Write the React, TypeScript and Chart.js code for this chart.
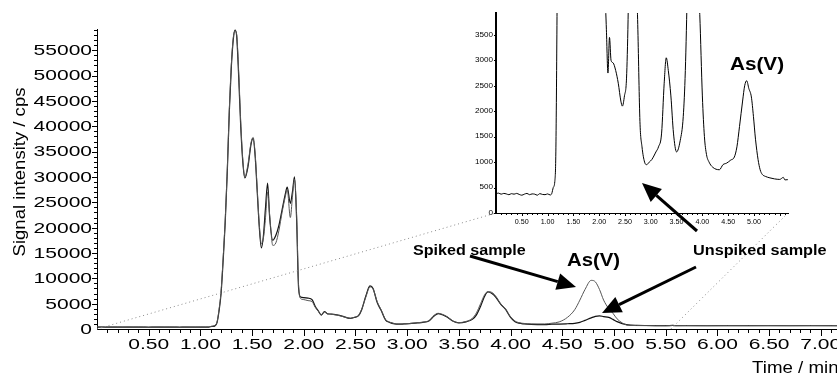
import React, { useEffect, useRef } from 'react';
import { Chart, registerables } from 'chart.js';

Chart.register(...registerables);

// ---- data ----
const TIME = [
  0.0, 0.05, 0.1, 0.15, 0.2, 0.25, 0.3, 0.35, 0.4, 0.45, 0.5, 0.55, 0.6, 0.65, 0.7, 0.75, 0.8, 0.85, 0.9, 0.95,
  1.0, 1.05, 1.08, 1.11, 1.14, 1.16, 1.18, 1.2, 1.22, 1.24, 1.26, 1.28, 1.3, 1.32, 1.335, 1.35, 1.37, 1.39, 1.41, 1.43,
  1.46, 1.49, 1.51, 1.53, 1.55, 1.57, 1.59, 1.61, 1.63, 1.65, 1.67, 1.7, 1.73, 1.76, 1.79, 1.82, 1.84, 1.87, 1.89, 1.91,
  1.93, 1.95, 1.97, 2.0, 2.04, 2.08, 2.11, 2.14, 2.17, 2.2, 2.23, 2.27, 2.32, 2.37, 2.42, 2.45, 2.49, 2.53, 2.56, 2.6,
  2.64, 2.67, 2.71, 2.75, 2.79, 2.83, 2.88, 2.92, 2.97, 3.02, 3.1, 3.15, 3.21, 3.26, 3.3, 3.34, 3.39, 3.44, 3.5, 3.57,
  3.63, 3.67, 3.71, 3.75, 3.78, 3.82, 3.86, 3.9, 3.95, 4.0, 4.04, 4.08, 4.13, 4.2, 4.33, 4.4, 4.47, 4.55, 4.62, 4.67,
  4.72, 4.78, 4.82, 4.86, 4.9, 4.95, 4.99, 5.03, 5.08, 5.12, 5.16, 5.22, 5.31, 5.4, 5.5, 5.57, 5.6, 5.7, 5.9, 6.1,
  6.3, 6.5, 6.7, 6.9, 7.1, 7.16,
];

const UNSPIKED = [
  380, 390, 370, 385, 375, 360, 380, 370, 385, 365, 350, 370, 385, 360, 375, 370, 350, 380, 365, 360,
  375, 355, 380, 500, 620, 1200, 3500, 7000, 13500, 21000, 31000, 43000, 52000, 57500, 59000, 58000, 50000, 40000, 33000, 29800,
  32000, 36500, 37600, 34000, 27000, 20000, 16000, 18500, 24000, 28800, 22000, 17500, 18500, 20500, 23500, 26500, 28000, 24800, 27000, 30000,
  22000, 8000, 6300, 6200, 6100, 5800, 4500, 3600, 2750, 3450, 3000, 2950, 2800, 2550, 2200, 2100, 2300, 2650, 3800, 6500,
  8500, 8000, 5200, 3600, 1800, 1300, 1000, 950, 1000, 1050, 1200, 1300, 1570, 2550, 3050, 2800, 2300, 1570, 1200, 1420,
  1900, 2800, 4500, 6500, 7300, 7000, 6200, 5000, 3900, 2300, 1500, 1150, 1000, 900, 850, 950, 980, 1040, 1100, 1300,
  1700, 2200, 2500, 2600, 2450, 2280, 1900, 1450, 1050, 850, 760, 720, 690, 670, 660, 700, 650, 660, 640, 660,
  650, 670, 640, 660, 650, 640,
];

const SPIKED = [
  420, 410, 400, 420, 410, 400, 420, 405, 415, 400, 390, 410, 420, 400, 410, 400, 395, 415, 400, 395,
  410, 400, 420, 520, 700, 1300, 3800, 7500, 14000, 21500, 31500, 43500, 52500, 57800, 58800, 58200, 51000, 41000, 33500, 30000,
  32500, 36800, 37800, 34500, 27500, 20500, 16800, 18000, 22000, 27000, 22500, 16500, 17000, 19500, 23000, 26000, 27500, 22000, 26000, 29500,
  23000, 8500, 6000, 5800, 5600, 5400, 4300, 3500, 2800, 3300, 3000, 2900, 2750, 2500, 2200, 2100, 2300, 2700, 3900, 6300,
  8300, 7900, 5400, 3700, 1900, 1350, 1050, 980, 1020, 1080, 1250, 1350, 1650, 2700, 3100, 2900, 2400, 1600, 1250, 1500,
  2100, 3200, 5000, 6800, 7400, 7200, 6400, 5100, 4000, 2400, 1600, 1250, 1100, 1000, 1000, 1150, 1400, 2300, 3800, 5700,
  7800, 9600, 9300, 7800, 5700, 4000, 3100, 2000, 1200, 800, 700, 680, 660, 650, 640, 700, 660, 680, 650, 670,
  660, 680, 660, 680, 660, 650,
];

const MAIN_X_LABELS = ['0.50', '1.00', '1.50', '2.00', '2.50', '3.00', '3.50', '4.00', '4.50', '5.00', '5.50', '6.00', '6.50', '7.00'];
const MAIN_Y_LABELS = ['0', '5000', '10000', '15000', '20000', '25000', '30000', '35000', '40000', '45000', '50000', '55000'];
const INSET_X_LABELS = ['0.50', '1.00', '1.50', '2.00', '2.50', '3.00', '3.50', '4.00', '4.50', '5.00'];
const INSET_Y_LABELS = ['0', '500', '1000', '1500', '2000', '2500', '3000', '3500'];

const X_TITLE = 'Time / min';
const Y_TITLE = 'Signal intensity / cps';
const LABEL_SPIKED = 'Spiked sample';
const LABEL_UNSPIKED = 'Unspiked sample';
const LABEL_ASV = 'As(V)';

// ---- layout ----
const W = 837;
const H = 375;
const INSET_LEFT = 440;
const INSET_W = 360;
const INSET_H = 235;
const INSET_PAD = { left: 56, right: 12, top: 13, bottom: 22 };

const FONT = '"Liberation Sans", Arial, Helvetica, sans-serif';

function stretchText(
  ctx: CanvasRenderingContext2D,
  text: string,
  x: number,
  y: number,
  sx: number,
  font: string,
  align: CanvasTextAlign,
  baseline: CanvasTextBaseline,
  rotate = 0
) {
  ctx.save();
  ctx.translate(x, y);
  if (rotate) ctx.rotate(rotate);
  ctx.scale(sx, 1);
  ctx.font = font;
  ctx.textAlign = align;
  ctx.textBaseline = baseline;
  ctx.fillText(text, 0, 0);
  ctx.restore();
}

function seg(ctx: CanvasRenderingContext2D, x1: number, y1: number, x2: number, y2: number) {
  ctx.beginPath();
  ctx.moveTo(x1, y1);
  ctx.lineTo(x2, y2);
  ctx.stroke();
}

function arrow(ctx: CanvasRenderingContext2D, x1: number, y1: number, x2: number, y2: number) {
  const ang = Math.atan2(y2 - y1, x2 - x1);
  const headLen = 19;
  const headHalf = 8.5;
  const bx = x2 - headLen * Math.cos(ang);
  const by = y2 - headLen * Math.sin(ang);
  ctx.save();
  ctx.strokeStyle = '#000';
  ctx.fillStyle = '#000';
  ctx.lineWidth = 3;
  seg(ctx, x1, y1, bx, by);
  ctx.beginPath();
  ctx.moveTo(x2, y2);
  ctx.lineTo(bx + headHalf * Math.sin(ang), by - headHalf * Math.cos(ang));
  ctx.lineTo(bx - headHalf * Math.sin(ang), by + headHalf * Math.cos(ang));
  ctx.closePath();
  ctx.fill();
  ctx.restore();
}

const mainDecor = {
  id: 'mainDecor',
  afterDraw(chart: any) {
    const { ctx, chartArea: a } = chart;
    const x = chart.scales.x;
    const y = chart.scales.y;
    ctx.save();
    ctx.strokeStyle = '#000';
    ctx.lineWidth = 1;
    // x ticks: minor every 0.1, major every 0.5
    for (let i = 1; i <= 71; i++) {
      const px = Math.round(x.getPixelForValue(i / 10)) + 0.5;
      const major = i % 5 === 0;
      seg(ctx, px, a.bottom, px, a.bottom + (major ? 7 : 4));
    }
    // y ticks: minor every 1000, major every 5000
    for (let v = 1000; v <= 59000; v += 1000) {
      const py = Math.round(y.getPixelForValue(v)) + 0.5;
      const major = v % 5000 === 0;
      seg(ctx, a.left - (major ? 5 : 3), py, a.left, py);
    }
    ctx.fillStyle = '#000';
    const tickFont = `14px ${FONT}`;
    MAIN_X_LABELS.forEach((l) => {
      stretchText(ctx, l, x.getPixelForValue(parseFloat(l)), a.bottom + 16, 1.5, tickFont, 'center', 'middle');
    });
    MAIN_Y_LABELS.forEach((l) => {
      stretchText(ctx, l, a.left - 5, y.getPixelForValue(parseFloat(l)) + 1, 1.5, tickFont, 'right', 'middle');
    });
    // axis titles
    stretchText(ctx, X_TITLE, 752, 373, 1.1, `17px ${FONT}`, 'left', 'alphabetic');
    stretchText(ctx, Y_TITLE, 25, 172, 1.09, `17px ${FONT}`, 'center', 'alphabetic', -Math.PI / 2);

    // dotted connector lines to the inset
    ctx.save();
    ctx.strokeStyle = '#8a8a8a';
    ctx.lineWidth = 1;
    ctx.setLineDash([1, 3]);
    const insetBL = { x: INSET_LEFT + INSET_PAD.left, y: INSET_H - INSET_PAD.bottom };
    const insetBR = { x: INSET_LEFT + INSET_W - INSET_PAD.right, y: INSET_H - INSET_PAD.bottom };
    seg(ctx, x.getPixelForValue(0), y.getPixelForValue(0), insetBL.x, insetBL.y);
    seg(ctx, x.getPixelForValue(5.55), y.getPixelForValue(0), insetBR.x, insetBR.y);
    ctx.restore();

    // annotations
    const bold14 = `bold 14px ${FONT}`;
    stretchText(ctx, LABEL_SPIKED, 413, 255, 1.15, bold14, 'left', 'alphabetic');
    stretchText(ctx, LABEL_UNSPIKED, 693, 255, 1.16, bold14, 'left', 'alphabetic');
    stretchText(ctx, LABEL_ASV, 567, 266, 1.13, `bold 18px ${FONT}`, 'left', 'alphabetic');

    arrow(ctx, 470, 256, 576, 287);
    arrow(ctx, 696, 267, 602, 313);
    arrow(ctx, 697, 231, 642, 183);
    ctx.restore();
  },
};

const insetDecor = {
  id: 'insetDecor',
  afterDraw(chart: any) {
    const { ctx, chartArea: a } = chart;
    const x = chart.scales.x;
    const y = chart.scales.y;
    ctx.save();
    ctx.strokeStyle = '#000';
    ctx.lineWidth = 1;
    for (let i = 1; i <= 56; i++) {
      const px = Math.round(x.getPixelForValue(i / 10)) + 0.5;
      const major = i % 5 === 0;
      seg(ctx, px, a.bottom, px, a.bottom + (major ? 3 : 2));
    }
    INSET_Y_LABELS.forEach((l) => {
      const py = Math.round(y.getPixelForValue(parseFloat(l))) + 0.5;
      seg(ctx, a.left - 2, py, a.left, py);
    });
    ctx.fillStyle = '#000';
    const f = `6.5px ${FONT}`;
    INSET_X_LABELS.forEach((l) => {
      stretchText(ctx, l, x.getPixelForValue(parseFloat(l)), a.bottom + 9, 1.1, f, 'center', 'middle');
    });
    INSET_Y_LABELS.forEach((l) => {
      stretchText(ctx, l, a.left - 3, y.getPixelForValue(parseFloat(l)), 1.25, f, 'right', 'middle');
    });
    stretchText(ctx, LABEL_ASV, 730 - INSET_LEFT, 70, 1.15, `bold 18px ${FONT}`, 'left', 'alphabetic');
    ctx.restore();
  },
};

function points(ys: number[]) {
  return TIME.map((t, i) => ({ x: t, y: ys[i] }));
}

function axisBase(min: number, max: number, borderWidth: number) {
  return {
    type: 'linear' as const,
    min,
    max,
    display: true,
    ticks: { display: false },
    grid: { display: false, drawTicks: false, drawOnChartArea: false },
    border: { display: true, color: '#000', width: borderWidth },
  };
}

export default function App() {
  const mainRef = useRef<HTMLCanvasElement>(null);
  const insetRef = useRef<HTMLCanvasElement>(null);

  useEffect(() => {
    const main = new Chart(mainRef.current as HTMLCanvasElement, {
      type: 'line',
      data: {
        datasets: [
          {
            label: LABEL_SPIKED,
            data: points(SPIKED),
            borderColor: '#555',
            borderWidth: 1,
            pointRadius: 0,
            cubicInterpolationMode: 'monotone',
          },
          {
            label: LABEL_UNSPIKED,
            data: points(UNSPIKED),
            borderColor: '#111',
            borderWidth: 1.2,
            pointRadius: 0,
            cubicInterpolationMode: 'monotone',
          },
        ],
      },
      options: {
        animation: false,
        responsive: false,
        devicePixelRatio: 1,
        parsing: false,
        layout: { padding: { left: 97, right: 0, top: 29, bottom: 46 } },
        plugins: { legend: { display: false }, tooltip: { enabled: false } },
        scales: {
          x: axisBase(0, 7.157, 1),
          y: axisBase(0, 59200, 1),
        },
      },
      plugins: [mainDecor],
    } as any);

    const inset = new Chart(insetRef.current as HTMLCanvasElement, {
      type: 'line',
      data: {
        datasets: [
          {
            label: LABEL_UNSPIKED,
            data: points(UNSPIKED),
            borderColor: '#000',
            borderWidth: 1,
            pointRadius: 0,
            cubicInterpolationMode: 'monotone',
          },
        ],
      },
      options: {
        animation: false,
        responsive: false,
        devicePixelRatio: 1,
        parsing: false,
        layout: { padding: INSET_PAD },
        plugins: { legend: { display: false }, tooltip: { enabled: false } },
        scales: {
          x: axisBase(0, 5.66, 1),
          y: axisBase(0, 3930, 2),
        },
      },
      plugins: [insetDecor],
    } as any);

    return () => {
      main.destroy();
      inset.destroy();
    };
  }, []);

  return (
    <div style={{ position: 'absolute', left: 0, top: 0, width: W, height: H, background: '#fff', overflow: 'hidden' }}>
      <canvas ref={mainRef} width={W} height={H} style={{ position: 'absolute', left: 0, top: 0 }} />
      <canvas
        ref={insetRef}
        width={INSET_W}
        height={INSET_H}
        style={{ position: 'absolute', left: INSET_LEFT, top: 0 }}
      />
    </div>
  );
}
